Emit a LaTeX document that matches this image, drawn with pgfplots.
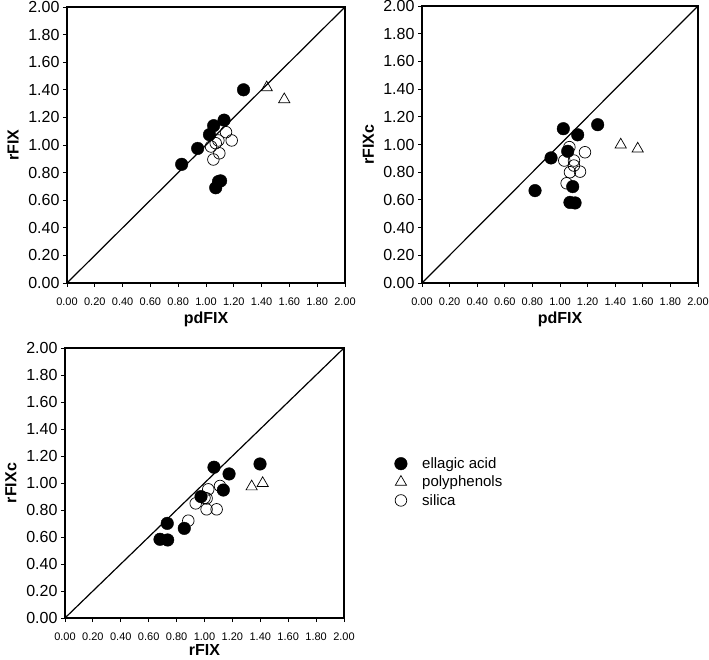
\documentclass[border=0pt]{standalone}
\usepackage{fontspec}
\setmainfont{Liberation Sans}
\usepackage{pgfplots}
\pgfplotsset{compat=1.18}

\pgfplotsset{
  panel/.style={
    scale only axis, anchor=south west,
    xmin=0, xmax=2, ymin=0, ymax=2,
    xtick={0,0.2,0.4,0.6,0.8,1.0,1.2,1.4,1.6,1.8,2.0},
    ytick={0,0.2,0.4,0.6,0.8,1.0,1.2,1.4,1.6,1.8,2.0},
    tick align=outside, xtick pos=bottom, ytick pos=left,
    major tick length=4pt,
    tick style={black, line width=0.9pt},
    axis line style={line width=2pt},
    /pgf/number format/.cd, fixed, fixed zerofill, precision=2, assume math mode=true, /pgfplots/.cd,
    xticklabel style={font=\fontsize{11}{11}\selectfont, yshift=-7pt},
    yticklabel style={font=\fontsize{16}{16}\selectfont},
    label style={font=\bfseries\fontsize{16}{16}\selectfont},
    xlabel style={at={(axis description cs:0.5,-0.13)}, anchor=center},
    ylabel style={at={(axis description cs:-0.194,0.5)}, anchor=center},
  },
  ea/.style={only marks, mark=*, mark size=6.3pt, mark options={draw=black, fill=black}},
  pp/.style={only marks, mark=triangle, mark size=6.5pt, mark options={draw=black, line width=0.7pt}},
  si/.style={only marks, mark=o, mark size=5.8pt, mark options={draw=black, line width=0.7pt}},
}

\begin{document}
\begin{tikzpicture}[x=1pt, y=1pt]
\useasboundingbox (0,0) rectangle (709,659);

% pdFIX vs rFIX
\begin{axis}[panel, at={(67pt,376pt)}, width=278pt, height=276pt,
    xlabel=pdFIX, ylabel=rFIX]
\addplot[black, line width=1.2pt] coordinates {(0,0) (2,2)};
\addplot[ea] coordinates {(1.27,1.40) (1.13,1.18) (1.055,1.14) (1.025,1.075) (0.94,0.975) (0.825,0.86) (1.09,0.735) (1.105,0.74) (1.07,0.69)};
\addplot[pp] coordinates {(1.437,1.416) (1.563,1.33)};
\addplot[si] coordinates {(1.144,1.093) (1.185,1.033) (1.089,1.033) (1.07,1.013) (1.036,0.989) (1.096,0.94) (1.053,0.895)};
\end{axis}

% pdFIX vs rFIXc
\begin{axis}[panel, at={(422pt,376pt)}, width=276pt, height=277pt,
    xlabel=pdFIX, ylabel=rFIXc]
\addplot[black, line width=1.2pt] coordinates {(0,0) (2,2)};
\addplot[ea] coordinates {(1.024,1.114) (1.273,1.143) (1.128,1.07) (1.056,0.951) (0.935,0.903) (0.819,0.667) (1.092,0.696) (1.072,0.582) (1.109,0.578)};
\addplot[pp] coordinates {(1.44,0.998) (1.563,0.969)};
\addplot[si] coordinates {(1.068,0.981) (1.181,0.944) (1.031,0.884) (1.101,0.884) (1.101,0.848) (1.145,0.804) (1.072,0.80) (1.048,0.72)};
\end{axis}

% rFIX vs rFIXc
\begin{axis}[panel, at={(65pt,41pt)}, width=279pt, height=270pt,
    xlabel=rFIX, ylabel=rFIXc,
    xlabel style={at={(axis description cs:0.5,-0.12)}},
    legend cell align=left,
    legend style={draw=none, fill=none, at={(axis description cs:1.17,0.61)}, anchor=north west,
      font=\fontsize{15}{15}\selectfont, row sep=2pt,
      /tikz/every odd column/.append style={column sep=13pt}}]
\addplot[black, line width=1.2pt, forget plot] coordinates {(0,0) (2,2)};
\addplot[ea] coordinates {(1.068,1.117) (1.176,1.067) (1.398,1.141) (1.135,0.948) (0.975,0.899) (0.733,0.701) (0.855,0.664) (0.681,0.583) (0.736,0.578)};
\addlegendentry{ellagic acid}
\addplot[pp] coordinates {(1.338,0.973) (1.417,0.998)};
\addlegendentry{polyphenols}
\addplot[si] coordinates {(1.027,0.953) (1.111,0.978) (1.00,0.89) (1.015,0.886) (0.937,0.849) (1.015,0.805) (1.087,0.805) (0.884,0.721)};
\addlegendentry{silica}
\end{axis}
\end{tikzpicture}
\end{document}
